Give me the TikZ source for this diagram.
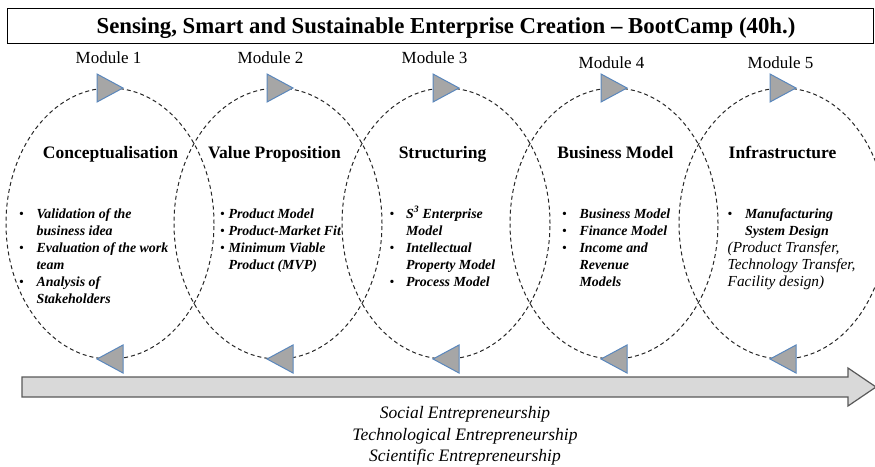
\documentclass[tikz,border=0pt]{standalone}
\usepackage{fontspec}
\setmainfont{Liberation Serif}
\usetikzlibrary{shapes.geometric}
\definecolor{triFill}{HTML}{A6A6A6}
\definecolor{triLine}{HTML}{5A87BC}
\definecolor{barFill}{HTML}{D9D9D9}
\definecolor{barLine}{HTML}{595959}
\newcommand{\bitx}[1]{\textbf{\textit{#1}}}
\begin{document}
\begin{tikzpicture}[x=1pt,y=-1pt,
  ell/.style={ellipse, draw=black!85, dash pattern=on 4pt off 3pt, line width=1pt,
    minimum width=208pt, minimum height=271pt, inner sep=0pt},
  tri/.style={fill=triFill, draw=triLine, line width=1pt, line join=miter},
  modlbl/.style={font=\fontsize{17}{20}\selectfont, anchor=base, inner sep=0pt},
  headlbl/.style={font=\fontsize{17.5}{20}\selectfont\bfseries, anchor=base, inner sep=0pt},
  blist/.style={anchor=base west, inner sep=0pt, font=\fontsize{13.9}{17}\selectfont},
  bottomtxt/.style={font=\fontsize{17.5}{20}\selectfont\itshape, anchor=base, inner sep=0pt},
  ]
\useasboundingbox (0,0) rectangle (875,466);
\clip (0,0) rectangle (875,466);

% title
\node[draw=black, line width=1.2pt, minimum width=866pt, minimum height=35pt, inner sep=0pt,
  anchor=north west] (titlebox) at (7,8) {};
\node[font=\fontsize{22.8}{26}\selectfont\bfseries, anchor=base, inner sep=0pt] (title) at (446,33)
  {Sensing, Smart and Sustainable Enterprise Creation -- BootCamp (40h.)};

% ellipses
\node[ell] (e1) at (110,223.5) {};
\node[ell] (e2) at (278,223.5) {};
\node[ell] (e3) at (446,223.5) {};
\node[ell] (e4) at (614,223.5) {};
\node[ell] (e5) at (783,223.5) {};

% triangles
\foreach \cx in {110,280,446,614,783}{
  \draw[tri] (\cx-13,74) -- (\cx-13,102) -- (\cx+13,88) -- cycle;
  \draw[tri] (\cx-13,359) -- (\cx+13,345) -- (\cx+13,373) -- cycle;
}

% module labels
\node[modlbl] (m1) at (108.5,63) {Module 1};
\node[modlbl] (m2) at (270.5,63) {Module 2};
\node[modlbl] (m3) at (434.5,63) {Module 3};
\node[modlbl] (m4) at (611.5,68) {Module 4};
\node[modlbl] (m5) at (780.5,68) {Module 5};

% headings
\node[headlbl] (h1) at (110.5,158) {Conceptualisation};
\node[headlbl] (h2) at (274.5,158) {Value Proposition};
\node[headlbl] (h3) at (442.5,158) {Structuring};
\node[headlbl] (h4) at (615.5,158) {Business Model};
\node[headlbl] (h5) at (782.5,158) {Infrastructure};

% bullet lists
\node[blist] (l1) at (19,218) {\begin{tabular}[t]{@{}l@{\hspace{12.5pt}}l@{}}
\textbullet & \bitx{Validation of the}\\
 & \bitx{business idea}\\
\textbullet & \bitx{Evaluation of the work}\\
 & \bitx{team}\\
\textbullet & \bitx{Analysis of}\\
 & \bitx{Stakeholders}
\end{tabular}};

\node[blist] (l2) at (220,218) {\begin{tabular}[t]{@{}l@{\hspace{3.5pt}}l@{}}
\textbullet & \bitx{Product Model}\\
\textbullet & \bitx{Product-Market Fit}\\
\textbullet & \bitx{Minimum Viable}\\
 & \bitx{Product (MVP)}
\end{tabular}};

\node[blist] (l3) at (389.5,218) {\begin{tabular}[t]{@{}l@{\hspace{11.5pt}}l@{}}
\textbullet & \bitx{S\textsuperscript{3} Enterprise}\\
 & \bitx{Model}\\
\textbullet & \bitx{Intellectual}\\
 & \bitx{Property Model}\\
\textbullet & \bitx{Process Model}
\end{tabular}};

\node[blist] (l4) at (562,218) {\begin{tabular}[t]{@{}l@{\hspace{12.5pt}}l@{}}
\textbullet & \bitx{Business Model}\\
\textbullet & \bitx{Finance Model}\\
\textbullet & \bitx{Income and}\\
 & \bitx{Revenue}\\
 & \bitx{Models}
\end{tabular}};

\node[blist] (l5) at (727.5,218) {\begin{tabular}[t]{@{}l@{\hspace{12.5pt}}l@{}}
\textbullet & \bitx{Manufacturing}\\
 & \bitx{System Design}\\
\multicolumn{2}{@{}l@{}}{\fontsize{15.3}{17}\selectfont\itshape (Product Transfer,}\\
\multicolumn{2}{@{}l@{}}{\fontsize{15.3}{17}\selectfont\itshape Technology Transfer,}\\
\multicolumn{2}{@{}l@{}}{\fontsize{15.3}{17}\selectfont\itshape Facility design)}
\end{tabular}};

% timeline arrow
\draw[fill=barFill, draw=barLine, line width=1.2pt, line join=miter]
  (22,377) -- (848,377) -- (848,368) -- (876,387) -- (848,406) -- (848,397) -- (22,397) -- cycle;

% bottom text
\node[bottomtxt] (s1) at (465,418) {Social Entrepreneurship};
\node[bottomtxt] (s2) at (465,440) {Technological Entrepreneurship};
\node[bottomtxt] (s3) at (465,461) {Scientific Entrepreneurship};
\end{tikzpicture}
\end{document}
